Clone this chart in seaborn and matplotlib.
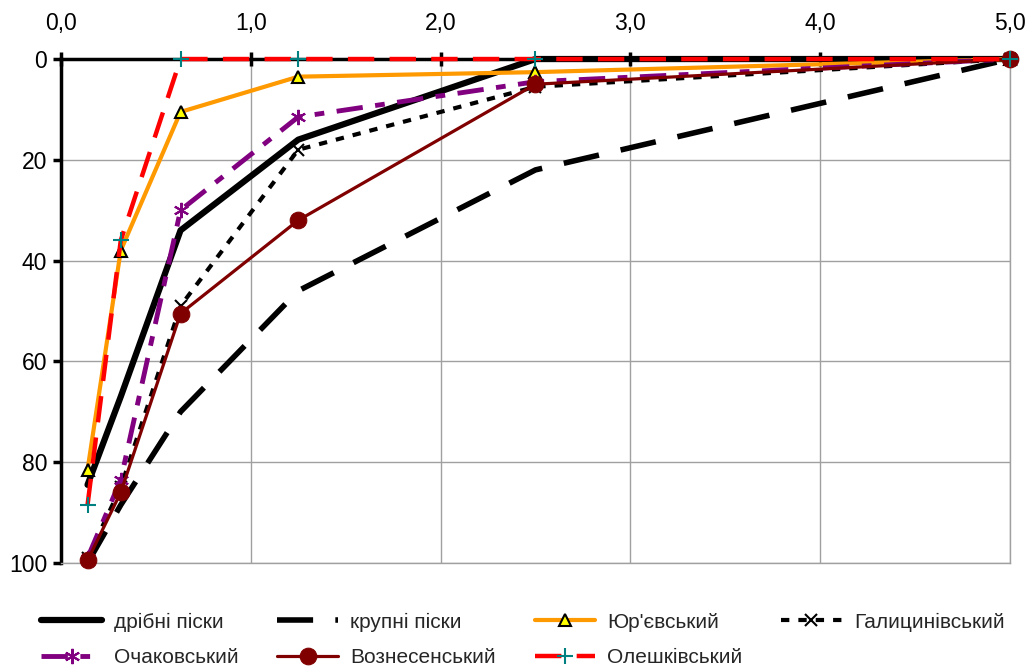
import seaborn as sns
import pandas as pd
import matplotlib.pyplot as plt

# grain size, mm
size_mm = [0.14, 0.315, 0.63, 1.25, 2.5, 5.0]

# cumulative passing, %
dribni = [84.5, 67, 34, 16, 0, 0]
krupni = [100, 88.5, 70, 46, 22, 0]
yurevsky = [81.5, 38, 10.5, 3.5, 2.6, 0]
halytsyn = [99, 85, 49, 18, 5.5, 0]
ochakiv = [99, 83.5, 30, 11.5, 4.5, 0]
voznesen = [99.5, 86, 50.5, 32, 5, 0]
oleshky = [88.5, 36, 0, 0, 0, 0]

labels = ["дрібні піски", "крупні піски", "Юр'євський", "Галицинівський",
          "Очаковський", "Вознесенський", "Олешківський"]

sns.set_style("white")
plt.rcParams['font.family'] = ['Liberation Sans', 'DejaVu Sans']
plt.rcParams['lines.scale_dashes'] = False

fig = plt.figure(figsize=(10.28, 6.67), dpi=100)
ax = fig.add_axes([0.0593, 0.156, 0.9232, 0.7555])

styles = [
    dict(color='black', lw=4.5, ls='-'),
    dict(color='black', lw=4.0, ls=(0, (26, 16)), solid_capstyle='butt', dash_capstyle='butt'),
    dict(color='#FF9900', lw=3.0, ls='-', marker='^', ms=9, mfc='#FFFF00', mec='black', mew=1.5),
    dict(color='black', lw=3.0, ls=(0, (6, 6.5)), dash_capstyle='butt', marker='x', ms=8, mec='black', mew=1.5),
    dict(color='#800080', lw=3.5, ls=(0, (19, 9, 7, 9)), dash_capstyle='butt', marker=(6, 2, 0), ms=11, mec='#800080', mew=1.5),
    dict(color='#800000', lw=2.3, ls='-', marker='o', ms=12, mfc='#800000', mec='#800000'),
    dict(color='#FF0000', lw=3.2, ls=(0, (19, 11)), dash_capstyle='butt', marker='+', ms=11, mec='#008080', mew=1.5),
]
series = [dribni, krupni, yurevsky, halytsyn, ochakiv, voznesen, oleshky]

for vals, lab, st in zip(series, labels, styles):
    df = pd.DataFrame({"size": size_mm, "pct": vals})
    sns.lineplot(data=df, x="size", y="pct", ax=ax, sort=False, label=lab, legend=False,
                 clip_on=False, zorder=3, **st)

ax.set_xlim(0, 5)
ax.set_ylim(100, 0)
ax.set_xticks([0, 1, 2, 3, 4, 5])
ax.set_xticklabels([f"{v:.1f}".replace('.', ',') for v in [0, 1, 2, 3, 4, 5]])
ax.set_yticks([0, 20, 40, 60, 80, 100])
ax.xaxis.tick_top()
ax.set_xlabel("")
ax.set_ylabel("")
ax.grid(True, color='#a0a0a0', lw=1)
ax.set_axisbelow(True)
for s in ['right', 'bottom']:
    ax.spines[s].set_color('#a0a0a0')
    ax.spines[s].set_linewidth(1)
for s in ['top', 'left']:
    ax.spines[s].set_color('black')
    ax.spines[s].set_linewidth(2.5)
ax.tick_params(axis='x', direction='inout', length=10, width=2.5, pad=12, labelsize=16.5, colors='black', top=True, bottom=False)
ax.tick_params(axis='y', direction='out', length=6, width=2.5, pad=4, labelsize=16.5, colors='black', left=True, right=False)

h = ax.get_lines()[:7]
order = [0, 4, 1, 5, 2, 6, 3]
fig.legend([h[i] for i in order], [labels[i] for i in order], ncol=4, loc='lower left',
           bbox_to_anchor=(0.022, -0.028), frameon=False, fontsize=15, handlelength=2.9,
           columnspacing=1.85, handletextpad=0.6, labelspacing=0.78)

fig.savefig("out.png", dpi=100)
